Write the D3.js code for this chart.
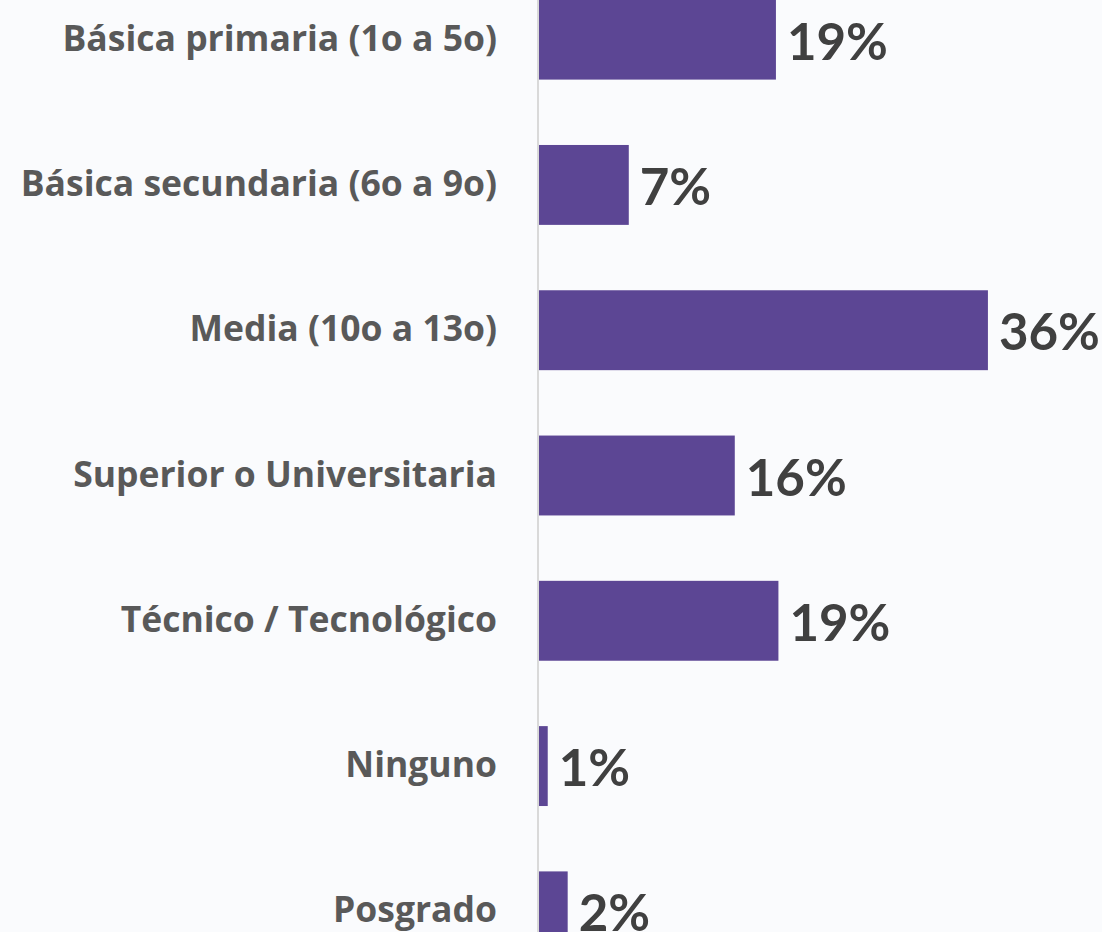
<!DOCTYPE html>
<html>
<head>
<meta charset="utf-8">
<style>
  body { margin: 0; background: #fafbfd; }
  .cat-label { font-family: "Open Sans", Lato, sans-serif; font-weight: bold; fill: #595959; }
  .val-label { font-family: Lato, "Open Sans", sans-serif; font-weight: bold; fill: #404040; }
</style>
</head>
<body>
<div id="chart"></div>
<script src="https://d3js.org/d3.v7.min.js"></script>
<script>
  // Nivel educativo
  const categories = [
    'Básica primaria (1o a 5o)',
    'Básica secundaria (6o a 9o)',
    'Media (10o a 13o)',
    'Superior o Universitaria',
    'Técnico / Tecnológico',
    'Ninguno',
    'Posgrado'
  ];
  const values = [19.0, 7.2, 36.0, 15.7, 19.2, 0.7, 2.3];
  const valueLabels = ['19%', '7%', '36%', '16%', '19%', '1%', '2%'];

  const width = 1102;
  const height = 932;
  const axisX = 539;

  const svg = d3.select('#chart')
    .append('svg')
    .attr('width', width)
    .attr('height', height);

  svg.append('rect')
    .attr('width', width)
    .attr('height', height)
    .attr('fill', '#fafbfd');

  const xScale = d3.scaleLinear()
    .domain([0, 40])
    .range([axisX, axisX + 40 * 12.47]);

  const yScale = d3.scaleBand()
    .domain(categories)
    .range([-33, 984])
    .paddingInner(0.45)
    .paddingOuter(0.225);

  const rows = categories.map((c, i) => ({ cat: c, value: values[i], label: valueLabels[i] }));

  svg.selectAll('.bar')
    .data(rows)
    .join('rect')
    .attr('class', 'bar')
    .attr('x', xScale(0))
    .attr('y', d => yScale(d.cat))
    .attr('width', d => xScale(d.value) - xScale(0))
    .attr('height', yScale.bandwidth())
    .attr('fill', '#5c4694');

  // vertical axis line
  svg.append('line')
    .attr('x1', axisX - 1)
    .attr('x2', axisX - 1)
    .attr('y1', 0)
    .attr('y2', height)
    .attr('stroke', '#d9d9d9')
    .attr('stroke-width', 2);

  svg.selectAll('.cat-label')
    .data(rows)
    .join('text')
    .attr('class', 'cat-label')
    .attr('x', 497)
    .attr('y', d => yScale(d.cat) + yScale.bandwidth() / 2 + 11)
    .attr('text-anchor', 'end')
    .attr('font-size', 35.5)
    .text(d => d.cat);

  svg.selectAll('.val-label')
    .data(rows)
    .join('text')
    .attr('class', 'val-label')
    .attr('x', d => xScale(d.value) + 11)
    .attr('y', d => yScale(d.cat) + yScale.bandwidth() / 2 + 20)
    .attr('font-size', 51)
    .text(d => d.label);
</script>
</body>
</html>
